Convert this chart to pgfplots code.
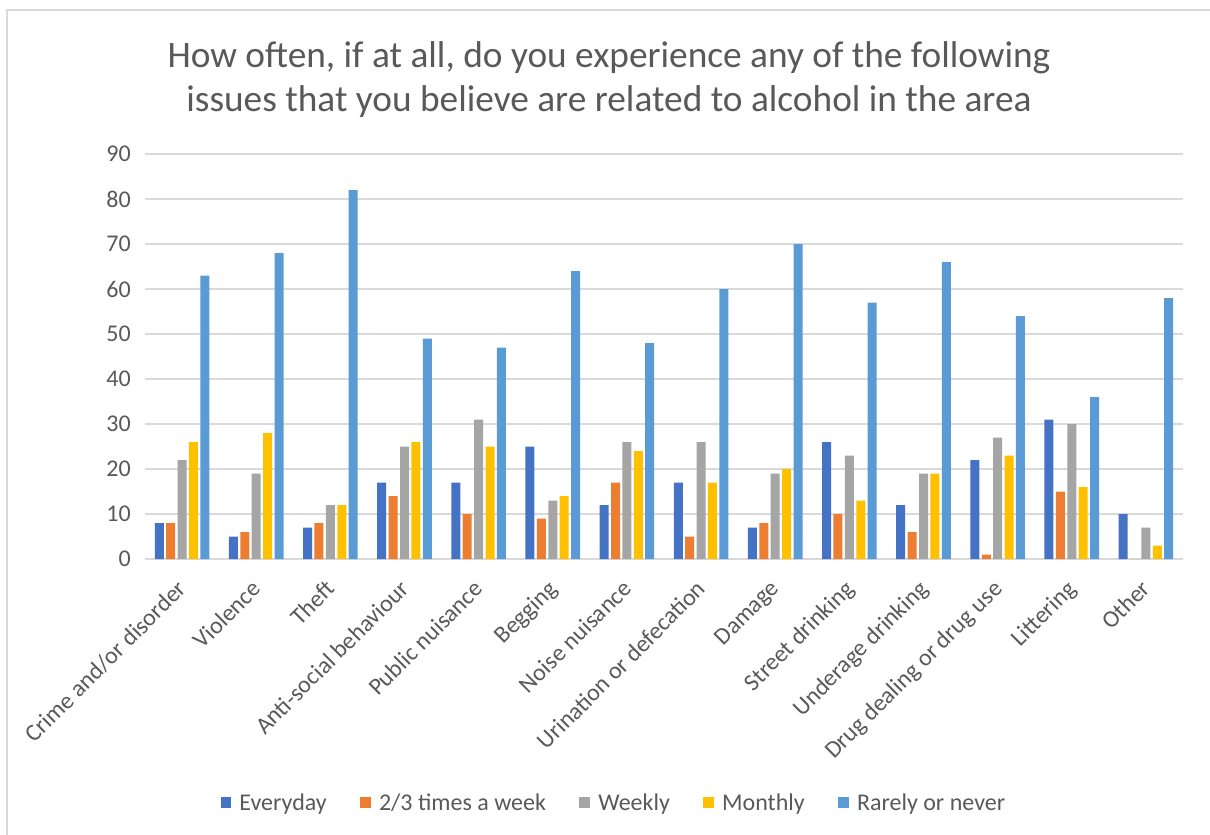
\documentclass[border=0pt]{standalone}
\usepackage{pgfplots}
\pgfplotsset{compat=1.18}
\usepackage{pgfplotstable}
\usepackage{fontspec}
\setmainfont{Carlito}
\definecolor{cE}{HTML}{4472C4}
\definecolor{cT}{HTML}{ED7D31}
\definecolor{cW}{HTML}{A5A5A5}
\definecolor{cM}{HTML}{FFC000}
\definecolor{cR}{HTML}{5B9BD5}
\definecolor{txt}{HTML}{595959}
\definecolor{gridc}{HTML}{D9D9D9}
\pgfplotstableread{
idx e t w m r
0 8 8 22 26 63
1 5 6 19 28 68
2 7 8 12 12 82
3 17 14 25 26 49
4 17 10 31 25 47
5 25 9 13 14 64
6 12 17 26 24 48
7 17 5 26 17 60
8 7 8 19 20 70
9 26 10 23 13 57
10 12 6 19 19 66
11 22 1 27 23 54
12 31 15 30 16 36
13 10 0 7 3 58
}\data
\pgfplotsset{sq/.style={legend image code/.code={\fill[##1,draw=none] (0pt,-4.1pt) rectangle (8.2pt,4.1pt);}}}
\begin{document}
\begin{tikzpicture}[x=0.75pt,y=0.75pt]
\path[use as bounding box] (0,0) rectangle (1210,835);
\draw[gridc, line width=1.2pt] (7,-10) -- (7,825) -- (1220,825);
\node[align=center, text=txt, font=\fontsize{28}{33}\selectfont] at (609,755)
  {How often, if at all, do you experience any of the following\\issues that you believe are related to alcohol in the area};
\begin{axis}[
  at={(108.75pt,207pt)}, anchor=south west,
  scale only axis, width=778.5pt, height=303.75pt,
  ybar=1.8pt, bar width=6.75pt,
  xmin=-0.5, xmax=13.5, ymin=0, ymax=90,
  ytick={0,10,...,90},
  xtick=data,
  xticklabels={Crime and/or disorder,Violence,Theft,Anti-social behaviour,Public nuisance,Begging,Noise nuisance,Urination or defecation,Damage,Street drinking,Underage drinking,Drug dealing or drug use,Littering,Other},
  major tick length=0pt,
  ymajorgrids, grid style={gridc, line width=0.9pt},
  axis x line*=bottom, axis y line*=left,
  y axis line style={draw=none},
  x axis line style={draw=gridc, line width=1.2pt, -},
  /pgf/number format/assume math mode=true,
  tick label style={text=txt, font=\fontsize{18}{21}\selectfont},
  yticklabel style={inner sep=0pt, xshift=-10.5pt},
  xticklabel style={rotate=45, anchor=north east, inner sep=0pt, yshift=-7.1pt, xshift=-13.4pt},
  legend columns=5,
  legend style={draw=none, fill=none, at={(0.452,-0.602)}, anchor=center,
    font=\fontsize{18}{21}\selectfont, text=txt,
    /tikz/every odd column/.append style={column sep=4pt},
    /tikz/every even column/.append style={column sep=23pt}},
  legend cell align=left,
]
\addplot[fill=cE, draw=none, sq] table[x=idx,y=e]{\data};
\addplot[fill=cT, draw=none, sq] table[x=idx,y=t]{\data};
\addplot[fill=cW, draw=none, sq] table[x=idx,y=w]{\data};
\addplot[fill=cM, draw=none, sq] table[x=idx,y=m]{\data};
\addplot[fill=cR, draw=none, sq] table[x=idx,y=r]{\data};
\legend{Everyday,2/3 times a week,Weekly,Monthly,Rarely or never}
\end{axis}
\end{tikzpicture}
\end{document}
